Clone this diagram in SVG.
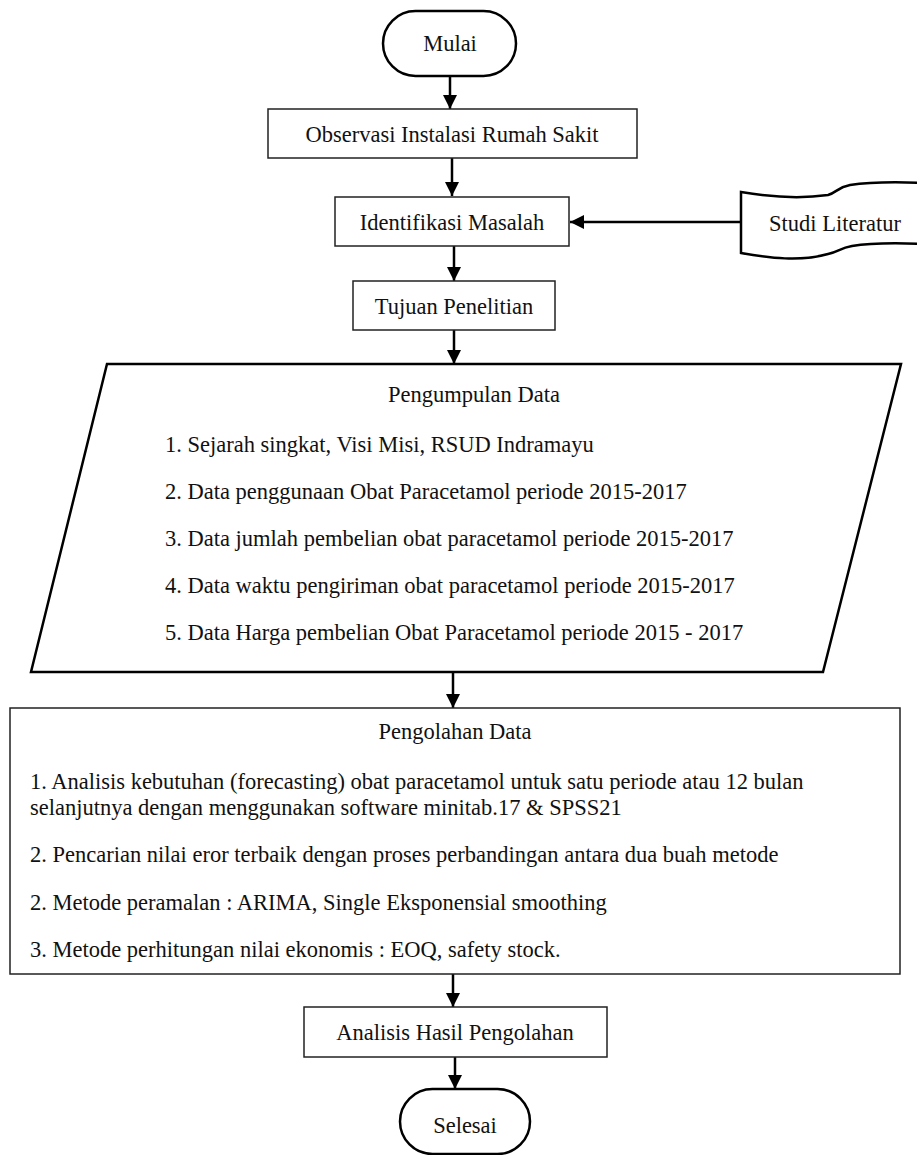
<svg xmlns="http://www.w3.org/2000/svg" width="917" height="1155" viewBox="0 0 917 1155">
<defs>
<marker id="ah" markerWidth="16" markerHeight="16" refX="14" refY="7" orient="auto" markerUnits="userSpaceOnUse">
<path d="M0,0 L14,7 L0,14 Z" fill="#000"/>
</marker>
<style>
text{font-family:"Liberation Serif","Times New Roman",serif;font-size:22.5px;fill:#111}
.c{text-anchor:middle}
.box{fill:#fff;stroke:#222;stroke-width:1.5}
.thick{fill:#fff;stroke:#000;stroke-width:2.5}
.con{stroke:#000;stroke-width:2.5;fill:none}
</style>
</defs>
<rect width="917" height="1155" fill="#fff"/>
<g id="connectors">
<line class="con" x1="450" y1="76" x2="450" y2="109" marker-end="url(#ah)"/>
<line class="con" x1="452" y1="158" x2="452" y2="196" marker-end="url(#ah)"/>
<line class="con" x1="741" y1="222" x2="570" y2="222" marker-end="url(#ah)"/>
<line class="con" x1="454" y1="246" x2="454" y2="281" marker-end="url(#ah)"/>
<line class="con" x1="454" y1="330" x2="454" y2="364" marker-end="url(#ah)"/>
<line class="con" x1="453" y1="672" x2="453" y2="708" marker-end="url(#ah)"/>
<line class="con" x1="453" y1="974" x2="453" y2="1007" marker-end="url(#ah)"/>
<line class="con" x1="455" y1="1057" x2="455" y2="1089" marker-end="url(#ah)"/>
</g>
<g id="mulai">
<rect class="thick" x="383" y="11" width="133" height="65" rx="32.5"/>
<text class="c" x="450" y="51">Mulai</text>
</g>
<g id="observasi">
<rect class="box" x="268" y="109" width="369" height="49"/>
<text class="c" x="452" y="142">Observasi Instalasi Rumah Sakit</text>
</g>
<g id="identifikasi">
<rect class="box" x="335" y="197" width="234" height="49"/>
<text class="c" x="452" y="230">Identifikasi Masalah</text>
</g>
<g id="studi">
<path class="thick" d="M741,192 C770,197 800,199 828,195 C836,193 838,187 850,185 C870,182 900,182 925,183 L925,244 C900,243 870,243 852,246 C840,248 838,252 828,254 C800,262 770,258 741,253 Z"/>
<text class="c" x="835" y="231">Studi Literatur</text>
</g>
<g id="tujuan">
<rect class="box" x="353" y="281" width="202" height="49"/>
<text class="c" x="454" y="314">Tujuan Penelitian</text>
</g>
<g id="pengumpulan">
<path class="thick" d="M107,364 L901,364 L823,672 L31,672 Z"/>
<text class="c" x="474" y="402">Pengumpulan Data</text>
<text x="165" y="452">1. Sejarah singkat, Visi Misi, RSUD Indramayu</text>
<text x="165" y="499">2. Data penggunaan Obat Paracetamol periode 2015-2017</text>
<text x="165" y="546">3. Data jumlah pembelian obat paracetamol periode 2015-2017</text>
<text x="165" y="593">4. Data waktu pengiriman obat paracetamol periode 2015-2017</text>
<text x="165" y="640">5. Data Harga pembelian Obat Paracetamol periode 2015 - 2017</text>
</g>
<g id="pengolahan">
<rect class="box" x="10" y="708" width="890" height="266"/>
<text class="c" x="455" y="739">Pengolahan Data</text>
<text x="30" y="789">1. Analisis kebutuhan (forecasting) obat paracetamol untuk satu periode atau 12 bulan</text>
<text x="30" y="815">selanjutnya dengan menggunakan software minitab.17 &amp; SPSS21</text>
<text x="30" y="862">2. Pencarian nilai eror terbaik dengan proses perbandingan antara dua buah metode</text>
<text x="30" y="910">2. Metode peramalan : ARIMA, Single Eksponensial smoothing</text>
<text x="30" y="957">3. Metode perhitungan nilai ekonomis : EOQ, safety stock.</text>
</g>
<g id="analisis">
<rect class="box" x="304" y="1007" width="303" height="50"/>
<text class="c" x="455" y="1040">Analisis Hasil Pengolahan</text>
</g>
<g id="selesai">
<rect class="thick" x="400" y="1089" width="130" height="65" rx="32.5"/>
<text class="c" x="465" y="1133">Selesai</text>
</g>
</svg>
